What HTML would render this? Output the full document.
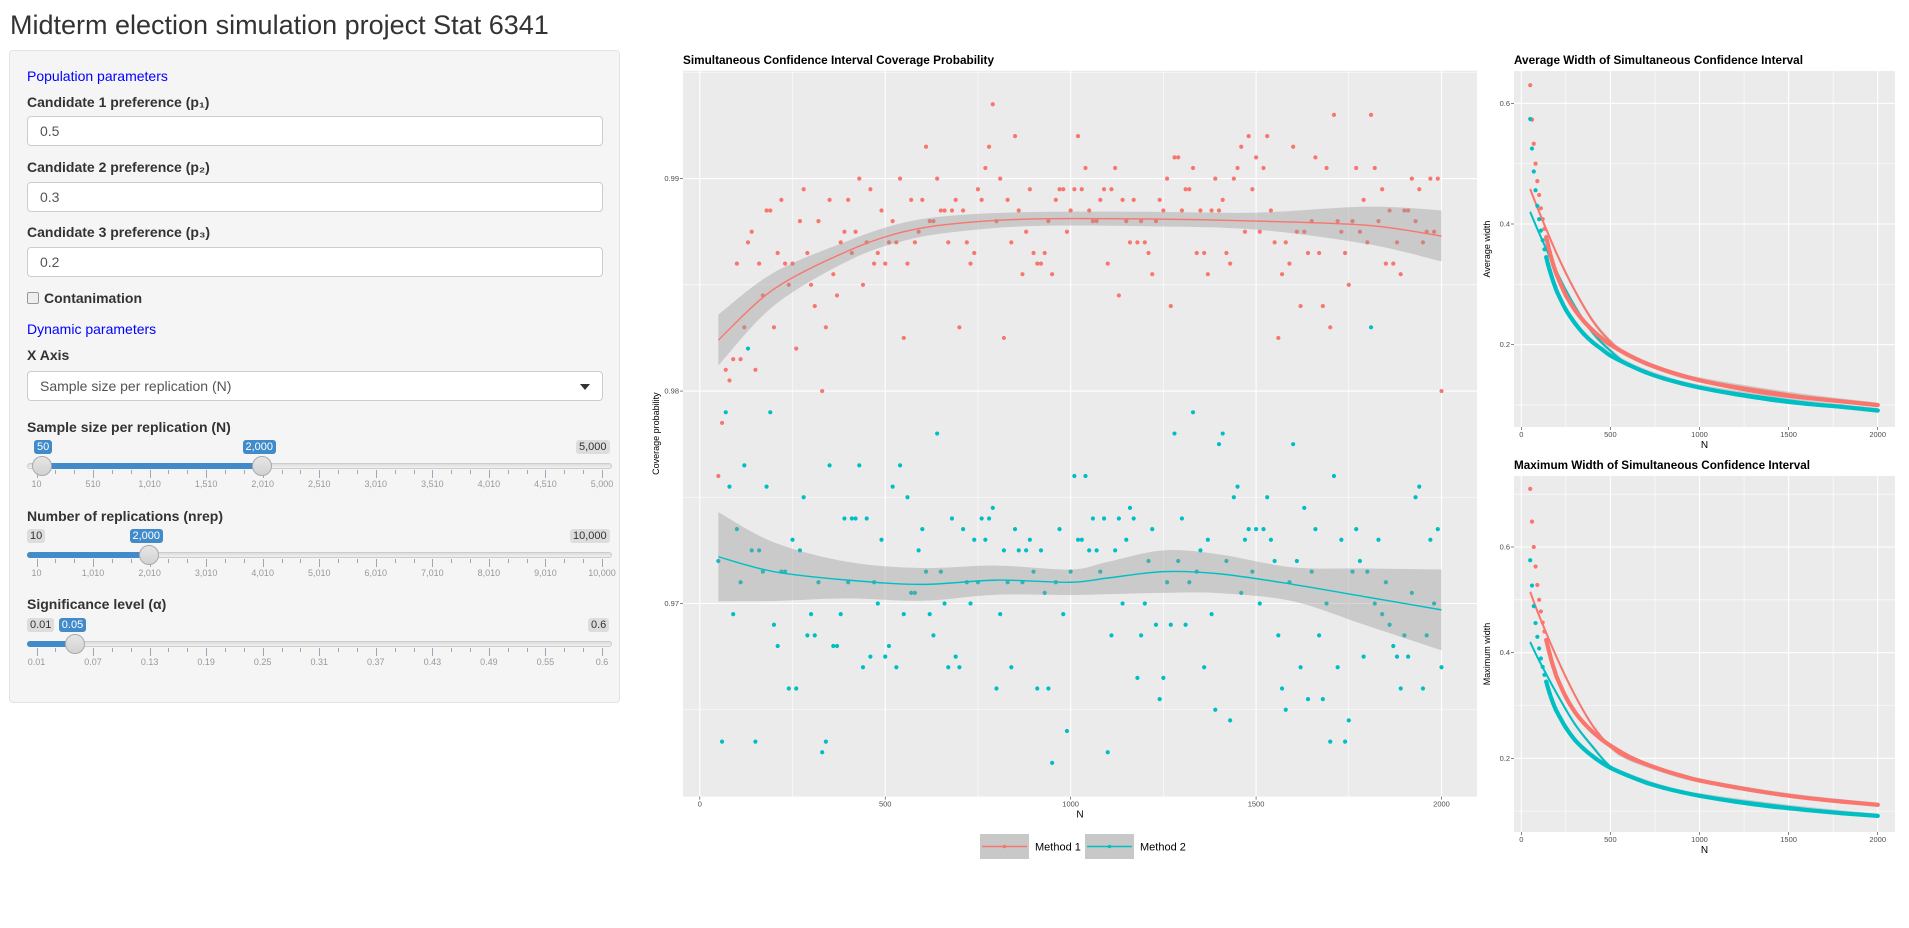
<!DOCTYPE html>
<html><head><meta charset="utf-8">
<style>
body{margin:0;width:1909px;height:928px;background:#fff;font-family:"Liberation Sans",Arial,sans-serif;position:relative;overflow:hidden;color:#333}
.abs{position:absolute}
.lbl{position:absolute;left:27px;font-size:14px;font-weight:bold;color:#333;line-height:16px}
.hd{position:absolute;left:27px;font-size:14px;color:#0000ff;line-height:16px}
.inp{position:absolute;left:27px;width:562px;height:28px;background:#fff;border:1px solid #ccc;border-radius:4px;font-size:14px;color:#555;line-height:28px;padding-left:12px;box-sizing:content-box}
.track{position:absolute;left:27px;width:585px;height:6px;background:linear-gradient(#dcdcdc,#f0f0f0);border:1px solid #ccc;border-radius:4px;box-sizing:border-box}
.fill{position:absolute;height:6px;background:#428bca;border-radius:3px}
.handle{position:absolute;width:20px;height:20px;border-radius:50%;background:linear-gradient(#e6e6e6,#d2d2d2);border:1px solid #aaa;box-sizing:border-box}
.badge{position:absolute;height:14px;font-size:11px;line-height:14px;padding:0 3px;border-radius:3px;background:#ddd;color:#333}
.badge.b{background:#428bca;color:#fff}
.tk{position:absolute;width:1px;background:#99a8bb}
.tl{position:absolute;font-size:9px;color:#999;transform:translateX(-50%)}
</style></head><body>
<div class="abs" style="left:10px;top:9px;font-size:27px;line-height:32px;color:#333">Midterm election simulation project Stat 6341</div>

<div class="abs" style="left:9px;top:50px;width:611px;height:653px;background:#f5f5f5;border:1px solid #e3e3e3;border-radius:4px;box-sizing:border-box"></div>

<div class="hd" style="top:68px">Population parameters</div>
<div class="lbl" style="top:94px">Candidate 1 preference (p₁)</div>
<div class="inp" style="top:116px">0.5</div>
<div class="lbl" style="top:159px">Candidate 2 preference (p₂)</div>
<div class="inp" style="top:182px">0.3</div>
<div class="lbl" style="top:224px">Candidate 3 preference (p₃)</div>
<div class="inp" style="top:247px">0.2</div>
<div class="abs" style="left:27px;top:292px;width:10px;height:10px;border:1px solid #999;border-radius:2px;background:#eee"></div>
<div class="lbl" style="left:44px;top:290px;font-weight:bold">Contanimation</div>
<div class="hd" style="top:321px">Dynamic parameters</div>
<div class="lbl" style="top:347px">X Axis</div>
<div class="inp" style="top:371px">Sample size per replication (N)<span style="position:absolute;right:12px;top:12px;width:0;height:0;border-left:5px solid transparent;border-right:5px solid transparent;border-top:6px solid #333"></span></div>

<div class="lbl" style="top:419px">Sample size per replication (N)</div>
<div class="lbl" style="top:508px">Number of replications (nrep)</div>
<div class="lbl" style="top:596px">Significance level (α)</div>
<div id="sliders"></div>

<svg id="charts" class="abs" style="left:0;top:0" width="1909" height="928"></svg>

<script>
const sliderDefs=[
 {name:'sample-size',top:463,labels:['10','510','1,010','1,510','2,010','2,510','3,010','3,510','4,010','4,510','5,000'],min:'5,000',lo:'50',hi:'2,000',loX:42,hiX:262,range:true,badgeY:440},
 {name:'nrep',top:552,labels:['10','1,010','2,010','3,010','4,010','5,010','6,010','7,010','8,010','9,010','10,000'],min:'10,000',minL:'10',hi:'2,000',hiX:149,range:false,badgeY:529},
 {name:'alpha',top:641,labels:['0.01','0.07','0.13','0.19','0.25','0.31','0.37','0.43','0.49','0.55','0.6'],min:'0.6',minL:'0.01',hi:'0.05',hiX:75,range:false,badgeY:618}
];
const sc=document.getElementById('sliders');
function mk(cls,style,text,name,inter){const d=document.createElement('div');d.className=cls;d.setAttribute('style',style);if(text!==undefined)d.textContent=text;


sc.appendChild(d);return d;}
sliderDefs.forEach(s=>{
 mk('track','top:'+s.top+'px','',s.name+'-track','true');
 const fx=s.range?s.loX:27;
 mk('fill','top:'+s.top+'px;left:'+fx+'px;width:'+(s.hiX-fx)+'px','',s.name+'-fill','false');
 const x0=36.5,x1=602;
 for(let i=0;i<=30;i++){const x=x0+(x1-x0)*i/30;const maj=i%3===0;
   mk('tk','left:'+x+'px;top:'+(s.top+7)+'px;height:'+(maj?8:4)+'px','',s.name+'-tick','false');}
 s.labels.forEach((t,i)=>{mk('tl','left:'+(x0+(x1-x0)*i/10)+'px;top:'+(s.top+16)+'px',t,s.name+'-tick-label','false');});
 mk('badge','left:'+(612-s.min.length*6-6)+'px;top:'+s.badgeY+'px',s.min,s.name+'-max-badge','false');
 if(s.minL)mk('badge','left:27px;top:'+s.badgeY+'px',s.minL,s.name+'-min-badge','false');
 if(s.range){mk('badge b','left:'+(s.loX-8)+'px;top:'+s.badgeY+'px',s.lo,s.name+'-low-badge','false');
   mk('handle','left:'+(s.loX-10)+'px;top:'+(s.top-7)+'px','',s.name+'-low-handle','true');}
 mk('badge b','left:'+(s.hiX-s.hi.length*3.3-3)+'px;top:'+s.badgeY+'px',s.hi,s.name+'-value-badge','false');
 mk('handle','left:'+(s.hiX-10)+'px;top:'+(s.top-7)+'px','',s.name+'-handle','true');
});
</script>

<script>
const mainN=[];for(let n=50;n<=2000;n+=10)mainN.push(n);
const coverM1=[
.976,.9785,.981,.9805,.9815,.986,.9815,.983,.987,.9875,
.981,.986,.9845,.9885,.9885,.983,.9865,.989,.986,.985,
.986,.982,.988,.9895,.9865,.985,.984,.988,.98,.983,
.989,.9855,.9845,.987,.9875,.989,.9865,.9875,.99,.985,
.987,.9895,.986,.9865,.9885,.986,.987,.988,.987,.99,
.9825,.986,.989,.987,.9875,.989,.9915,.988,.988,.99,
.9885,.9885,.987,.9885,.989,.983,.9885,.987,.986,.9865,
.9895,.989,.9905,.9915,.9935,.988,.99,.9825,.989,.987,
.992,.9885,.9855,.9875,.9895,.9865,.986,.986,.9865,.988,
.9855,.989,.9895,.9895,.9875,.9885,.9895,.992,.9895,.9905,
.9885,.988,.988,.989,.9895,.986,.9895,.9905,.9845,.989,
.988,.987,.989,.987,.988,.987,.9865,.9855,.988,.989,
.9885,.99,.984,.991,.991,.9885,.9895,.9895,.9905,.9865,
.9885,.9865,.9855,.9885,.99,.9885,.989,.9865,.986,.99,
.9905,.9915,.9875,.992,.9895,.991,.9875,.9905,.992,.9885,
.987,.9825,.9855,.987,.986,.9915,.9875,.984,.9875,.9865,
.988,.991,.9865,.984,.9905,.983,.993,.988,.9875,.9865,
.985,.988,.9905,.9875,.989,.987,.993,.9905,.988,.9895,
.986,.9885,.986,.987,.9855,.9885,.9885,.99,.988,.9895,
.987,.9875,.99,.9875,.99,.98];
const coverM2=[
.972,.9635,.979,.9755,.9695,.9735,.971,.9765,.982,.9725,
.9635,.9725,.9715,.9755,.979,.969,.968,.9715,.9715,.966,
.973,.966,.9725,.975,.9685,.9695,.9685,.971,.963,.9635,
.9765,.968,.968,.9695,.974,.971,.974,.974,.9765,.967,
.974,.9675,.971,.97,.973,.9675,.968,.9755,.967,.9765,
.9695,.975,.9705,.9705,.9725,.9735,.9715,.9695,.9685,.978,
.9715,.97,.967,.974,.9675,.967,.9735,.971,.97,.973,
.971,.974,.973,.974,.9745,.966,.9695,.9725,.971,.967,
.9735,.9725,.971,.9725,.973,.9715,.966,.9725,.9705,.966,
.9625,.971,.9735,.9695,.964,.9715,.976,.973,.973,.976,
.9725,.974,.9725,.9715,.974,.963,.9685,.9725,.974,.97,
.973,.9745,.974,.9665,.9685,.97,.972,.9735,.969,.9655,
.9665,.971,.969,.978,.972,.974,.969,.971,.979,.9715,
.9725,.967,.973,.9695,.965,.9775,.978,.972,.9645,.975,
.9755,.9705,.973,.9735,.9715,.9735,.97,.9735,.975,.973,
.972,.9685,.966,.965,.971,.9775,.972,.967,.9745,.9655,
.9715,.9735,.9685,.9655,.97,.9635,.976,.967,.973,.9635,
.9645,.9715,.9735,.972,.9675,.9715,.983,.97,.973,.9695,
.971,.969,.968,.9675,.966,.9685,.9675,.9705,.975,.9755,
.966,.9685,.973,.97,.9735,.967];
const smoothN1=[50,200,400,550,700,900,1200,1500,1800,2000];
const smoothM1=[.9824,.9848,.9866,.9875,.9879,.9881,.9881,.9880,.9878,.9873];
const bandN1=[50,300,1000,1500,2000];
const bandM1=[.0012,.0005,.0003,.0004,.0012];
const smoothN2=[50,200,400,600,800,1000,1100,1250,1400,1600,1800,2000];
const smoothM2=[.9722,.9715,.9711,.9709,.9711,.9710,.9712,.9715,.9714,.9709,.9703,.9697];
const bandN2=[50,300,1000,1250,1600,2000];
const bandM2=[.0021,.0009,.0006,.0010,.0008,.0019];

const widthN=[50,60,70,80,90,100,110,120,130,140,150,160,170,180,190,200,250,300,350,400,450,500,600,700,800,900,1000,1200,1400,1600,1800,2000];
const avgM1=[.63,.573,.533,.5,.471,.448,.426,.408,.392,.378,.365,.353,.342,.332,.323,.315,.282,.258,.239,.224,.211,.2,.183,.169,.158,.149,.141,.129,.119,.112,.106,.1];
const avgM2=[.574,.525,.487,.456,.43,.408,.389,.373,.358,.345,.333,.323,.313,.304,.296,.288,.258,.236,.218,.204,.193,.182,.167,.154,.144,.136,.129,.118,.109,.102,.097,.091];
const maxM1=[.71,.648,.6,.563,.528,.5,.478,.457,.44,.424,.41,.397,.384,.373,.363,.353,.316,.288,.267,.25,.236,.224,.204,.189,.177,.167,.158,.145,.134,.125,.118,.112];
const maxM2=[.575,.527,.488,.456,.43,.408,.389,.373,.358,.345,.333,.322,.312,.303,.295,.288,.258,.235,.218,.204,.192,.182,.167,.154,.144,.136,.129,.118,.109,.102,.096,.091];
const wSmoothN=[50,100,200,300,400,500,600,800,1000,1500,2000];
const avgSmooth1=[.458,.42,.35,.29,.24,.205,.183,.158,.142,.118,.1];
const avgSmooth2=[.42,.385,.32,.264,.22,.19,.168,.145,.13,.108,.091];
const maxSmooth1=[.515,.47,.39,.32,.262,.222,.2,.176,.158,.13,.112];
const maxSmooth2=[.42,.385,.322,.265,.222,.184,.168,.145,.13,.108,.091];
const xTicks=[0,500,1000,1500,2000];
const coverTicks=[0.97,0.98,0.99];
const coverTickLabels=['0.97','0.98','0.99'];
const widthTicks=[0.2,0.4,0.6];
const widthTickLabels=['0.2','0.4','0.6'];

const RED='#F8766D',CYAN='#00BFC4';
const svg=document.getElementById('charts');
const NS='http://www.w3.org/2000/svg';
function el(tag,attrs,parent){const e=document.createElementNS(NS,tag);for(const k in attrs)e.setAttribute(k,attrs[k]);(parent||svg).appendChild(e);return e;}
function interp(xs,ys,x){for(let i=0;i<xs.length-1;i++){if(x<=xs[i+1]){const t=(x-xs[i])/(xs[i+1]-xs[i]);return ys[i]+t*(ys[i+1]-ys[i]);}}return ys[ys.length-1];}
function curve(pts){let d='M'+pts[0][0]+','+pts[0][1];for(let i=0;i<pts.length-1;i++){const p0=pts[Math.max(0,i-1)],p1=pts[i],p2=pts[i+1],p3=pts[Math.min(pts.length-1,i+2)];
 d+=' C'+(p1[0]+(p2[0]-p0[0])/6)+','+(p1[1]+(p2[1]-p0[1])/6)+' '+(p2[0]-(p3[0]-p1[0])/6)+','+(p2[1]-(p3[1]-p1[1])/6)+' '+p2[0]+','+p2[1];}return d;}

function panel(cfg){
 const g=el('g',{});
 
 
 const bg=el('rect',{x:cfg.x0,y:cfg.y0,width:cfg.x1-cfg.x0,height:cfg.y1-cfg.y0,fill:'#ebebeb'},g);
 
 
 const X=v=>cfg.xa+(v-0)*(cfg.xb-cfg.xa)/2000;
 const Y=v=>cfg.ya+(v-cfg.va)*(cfg.yb-cfg.ya)/(cfg.vb-cfg.va);
 cfg.X=X;cfg.Y=Y;
 for(let v=-250;v<=2250;v+=500){const x=X(v);if(x>cfg.x0&&x<cfg.x1)el('line',{x1:x,x2:x,y1:cfg.y0,y2:cfg.y1,stroke:'#fff','stroke-width':0.55},g);}
 cfg.minorY.forEach(v=>{const y=Y(v);if(y>cfg.y0&&y<cfg.y1)el('line',{x1:cfg.x0,x2:cfg.x1,y1:y,y2:y,stroke:'#fff','stroke-width':0.55},g);});
 xTicks.forEach(v=>{const x=X(v);el('line',{x1:x,x2:x,y1:cfg.y0,y2:cfg.y1,stroke:'#fff','stroke-width':1.1},g);
   el('line',{x1:x,x2:x,y1:cfg.y1,y2:cfg.y1+3,stroke:'#333','stroke-width':0.6},g);
   const t=el('text',{x:x,y:cfg.y1+10,'font-size':7.5,fill:'#4d4d4d','text-anchor':'middle','font-family':'Liberation Sans,sans-serif'},g);t.textContent=String(v);
   
   });
 cfg.yTicks.forEach((v,i)=>{const y=Y(v);el('line',{x1:cfg.x0,x2:cfg.x1,y1:y,y2:y,stroke:'#fff','stroke-width':1.1},g);
   el('line',{x1:cfg.x0-3,x2:cfg.x0,y1:y,y2:y,stroke:'#333','stroke-width':0.6},g);
   const t=el('text',{x:cfg.x0-4,y:y+2.5,'font-size':7.5,fill:'#4d4d4d','text-anchor':'end','font-family':'Liberation Sans,sans-serif'},g);t.textContent=cfg.yLabels[i];
   
   });
 const tt=el('text',{x:cfg.x0,y:cfg.titleY,'font-size':11.5,'font-weight':'bold',fill:'#000','font-family':'Liberation Sans,sans-serif',textLength:cfg.titleW,lengthAdjust:'spacingAndGlyphs'},g);tt.textContent=cfg.title;
 
 
 const xt=el('text',{x:(cfg.x0+cfg.x1)/2,y:cfg.y1+21,'font-size':10,fill:'#000','text-anchor':'middle','font-family':'Liberation Sans,sans-serif'},g);xt.textContent='N';
 
 
 const yx=cfg.x0-24, ym=(cfg.y0+cfg.y1)/2;
 const yt=el('text',{x:yx,y:ym,'font-size':9,fill:'#000','text-anchor':'middle','font-family':'Liberation Sans,sans-serif',transform:'rotate(-90 '+yx+' '+ym+')'},g);yt.textContent=cfg.yTitle;
 
 
 const clip=el('clipPath',{id:'c'+cfg.name},g);el('rect',{x:cfg.x0,y:cfg.y0,width:cfg.x1-cfg.x0,height:cfg.y1-cfg.y0},clip);
 const inner=el('g',{'clip-path':'url(#c'+cfg.name+')'},g);
 return inner;
}
function points(g,cfg,xs,ys,color,r,name){ys.forEach((v,i)=>{const c=el('circle',{cx:cfg.X(xs[i]),cy:cfg.Y(v),r:r,fill:color},g);
 
 });}
function smooth(g,cfg,xs,ys,bxs,bys,color,w,name){
 const up=xs.map((x,i)=>[cfg.X(x),cfg.Y(ys[i]+interp(bxs,bys,x))]);
 const dn=xs.map((x,i)=>[cfg.X(x),cfg.Y(ys[i]-interp(bxs,bys,x))]).reverse();
 const band=el('path',{d:curve(up)+' L'+curve(dn).slice(1)+' Z',fill:'#999','fill-opacity':0.4},g);
 
 
 const ln=el('path',{d:curve(xs.map((x,i)=>[cfg.X(x),cfg.Y(ys[i])])),fill:'none',stroke:color,'stroke-width':w},g);
 
 
}

const mc={name:'coverage-chart',x0:683,x1:1477,y0:70.7,y1:796.6,xa:699.8,xb:1441.5,ya:603.5,yb:178.6,va:0.97,vb:0.99,
 yTicks:coverTicks,yLabels:coverTickLabels,minorY:[0.965,0.975,0.985,0.995],title:'Simultaneous Confidence Interval Coverage Probability',titleW:311,titleY:64,yTitle:'Coverage probability'};
let g=panel(mc);
points(g,mc,mainN,coverM1,RED,2.1,'method1-point');
points(g,mc,mainN,coverM2,CYAN,2.1,'method2-point');
smooth(g,mc,smoothN1,smoothM1,bandN1,bandM1,RED,1.4,'method1');
smooth(g,mc,smoothN2,smoothM2,bandN2,bandM2,CYAN,1.4,'method2');

function widthChart(cfg,s1,s2,sm1,sm2){
 const g=panel(cfg);
 const bw=wSmoothN.map(()=>0.004);
 smooth(g,cfg,wSmoothN,sm1,wSmoothN,bw,RED,2,'method1');
 smooth(g,cfg,wSmoothN,sm2,wSmoothN,bw,CYAN,2,'method2');
 [[s1,RED,'method1'],[s2,CYAN,'method2']].forEach(([s,c,n])=>{
   const pts=widthN.filter(x=>x>=140).map(x=>[cfg.X(x),cfg.Y(s[widthN.indexOf(x)])]);
   const l=el('path',{d:curve(pts),fill:'none',stroke:c,'stroke-width':4.2,'stroke-linecap':'round'},g);
   
   
   points(g,cfg,widthN,s,c,2.1,n+'-point');
 });
}
widthChart({name:'average-width-chart',x0:1514,x1:1895,y0:71,y1:427,xa:1521.3,xb:1877.7,ya:344.7,yb:103.3,va:0.2,vb:0.6,
 yTicks:widthTicks,yLabels:widthTickLabels,minorY:[0.1,0.3,0.5],title:'Average Width of Simultaneous Confidence Interval',titleW:289,titleY:64,yTitle:'Average width'},avgM1,avgM2,avgSmooth1,avgSmooth2);
widthChart({name:'maximum-width-chart',x0:1514,x1:1895,y0:476,y1:832,xa:1521.3,xb:1877.7,ya:758.3,yb:547,va:0.2,vb:0.6,
 yTicks:widthTicks,yLabels:widthTickLabels,minorY:[0.1,0.3,0.5,0.7],title:'Maximum Width of Simultaneous Confidence Interval',titleW:296,titleY:469,yTitle:'Maximum width'},maxM1,maxM2,maxSmooth1,maxSmooth2);

const lg=el('g',{});


[['Method 1',RED,980],['Method 2',CYAN,1085]].forEach(([t,c,x])=>{
 const e=el('g',{},lg);
 
 
 el('rect',{x:x,y:834,width:49,height:25,fill:'#c8c8c8'},e);
 el('line',{x1:x+2,x2:x+47,y1:846.5,y2:846.5,stroke:c,'stroke-width':1.4},e);
 el('circle',{cx:x+24.5,cy:846.5,r:1.8,fill:c},e);
 const tx=el('text',{x:x+55,y:850.5,'font-size':11,fill:'#000','font-family':'Liberation Sans,sans-serif'},e);tx.textContent=t;
});
</script>
</body></html>
